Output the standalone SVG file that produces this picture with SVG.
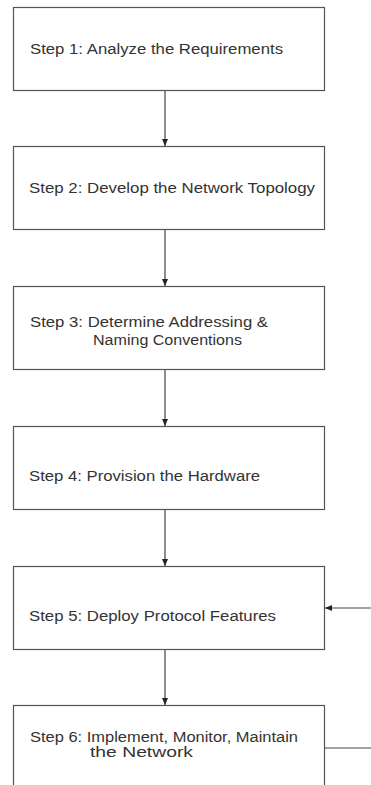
<svg xmlns="http://www.w3.org/2000/svg" width="371" height="785" viewBox="0 0 371 785">
<defs>
<style>
.box{fill:#fff;stroke:#555;stroke-width:1.2}
.lbl{font-family:"Liberation Sans",Arial,sans-serif;font-size:14px;fill:#333}
.con{stroke:#444;stroke-width:1.2;fill:none}
</style>
<marker id="ah" markerWidth="8" markerHeight="8" refX="7" refY="4" orient="auto" markerUnits="userSpaceOnUse">
<path d="M0,1 L7,4 L0,7 Z" fill="#222"/>
</marker>
</defs>
<rect width="371" height="785" fill="#fff"/>
<g id="step1"><rect class="box" x="13.5" y="7.5" width="311" height="83"/><text class="lbl" x="30" y="54" textLength="253" lengthAdjust="spacingAndGlyphs">Step 1: Analyze the Requirements</text></g>
<g id="step2"><rect class="box" x="13.5" y="146.5" width="311" height="83"/><text class="lbl" x="29" y="193" textLength="286" lengthAdjust="spacingAndGlyphs">Step 2: Develop the Network Topology</text></g>
<g id="step3"><rect class="box" x="13.5" y="286.5" width="311" height="83"/><text class="lbl" x="30" y="327" textLength="238" lengthAdjust="spacingAndGlyphs">Step 3: Determine Addressing &amp;</text><text class="lbl" x="93" y="345" textLength="149" lengthAdjust="spacingAndGlyphs">Naming Conventions</text></g>
<g id="step4"><rect class="box" x="13.5" y="426.5" width="311" height="83"/><text class="lbl" x="29" y="481" textLength="231" lengthAdjust="spacingAndGlyphs">Step 4: Provision the Hardware</text></g>
<g id="step5"><rect class="box" x="13.5" y="566.5" width="311" height="83"/><text class="lbl" x="29" y="621" textLength="247" lengthAdjust="spacingAndGlyphs">Step 5: Deploy Protocol Features</text></g>
<g id="step6"><rect class="box" x="13.5" y="705.5" width="311" height="90"/><text class="lbl" x="30" y="742" textLength="268" lengthAdjust="spacingAndGlyphs">Step 6: Implement, Monitor, Maintain</text><text class="lbl" x="90" y="757" textLength="103" lengthAdjust="spacingAndGlyphs">the Network</text></g>
<g id="connectors">
<line class="con" x1="165" y1="91" x2="165" y2="146" marker-end="url(#ah)"/>
<line class="con" x1="165" y1="230" x2="165" y2="286" marker-end="url(#ah)"/>
<line class="con" x1="165" y1="370" x2="165" y2="426" marker-end="url(#ah)"/>
<line class="con" x1="165" y1="510" x2="165" y2="566" marker-end="url(#ah)"/>
<line class="con" x1="165" y1="650" x2="165" y2="705" marker-end="url(#ah)"/>
<line class="con" x1="371" y1="608" x2="325" y2="608" marker-end="url(#ah)"/>
<line class="con" x1="325" y1="748" x2="371" y2="748"/>
</g>
</svg>
